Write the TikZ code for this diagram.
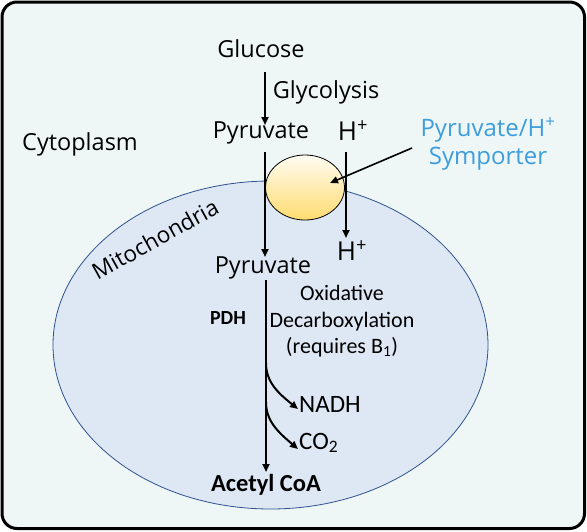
\documentclass[tikz,border=0pt]{standalone}
\usepackage{fontspec}
\setmainfont{Open Sans}
\newfontfamily\carlitofont{Carlito}
\usetikzlibrary{shapes.geometric,arrows.meta}
\definecolor{bgcol}{HTML}{EEF7F6}
\definecolor{mitofill}{HTML}{DEE8F5}
\definecolor{mitoline}{HTML}{2F528F}
\definecolor{symblue}{HTML}{3D9DDD}
\definecolor{symtop}{HTML}{FFFCF2}
\definecolor{symbot}{HTML}{FFDB70}
\tikzset{
  lab/.style={inner sep=0pt, font=\fontsize{23.5}{28}\selectfont},
  hlab/.style={inner sep=0pt, font=\fontsize{26}{30}\selectfont},
  clab/.style={inner sep=0pt, font=\carlitofont\fontsize{22}{26.5}\selectfont},
  arr/.style={line width=2pt, -{Triangle[length=8pt,width=7pt]}},
  thinarr/.style={line width=1.6pt, -{Triangle[length=8pt,width=7pt]}},
}
\begin{document}
\begin{tikzpicture}[x=1pt,y=-1pt]
\useasboundingbox (0,0) rectangle (587,531);
% outer cell
\draw[line width=3pt, rounded corners=15pt, fill=bgcol] (2,2) rectangle (584.5,528.5);
% mitochondria
\node[ellipse, draw=mitoline, line width=0.8pt, fill=mitofill, minimum width=435pt, minimum height=328pt, inner sep=0pt] (mito) at (270.5,345) {};
\node[lab, rotate=29, font=\fontsize{22.5}{27}\selectfont] (mitolab) at (155,239) {Mitochondria};
% symporter
\node[ellipse, draw=black, line width=0.8pt, top color=symtop, bottom color=symbot, minimum width=79pt, minimum height=65pt, inner sep=0pt] (sym) at (305,187.5) {};
% texts
\node[lab] (glucose) at (261,49) {Glucose};
\node[lab] (glyco) at (326,92) {Glycolysis};
\node[lab] (pyr1) at (261,133) {Pyruvate};
\node[hlab] (hp1) at (353,131) {H\textsuperscript{+}};
\node[lab] (cyto) at (80,144) {Cytoplasm};
\node[lab, text=symblue, align=center, font=\fontsize{24}{28}\selectfont] (symlab) at (488,144) {Pyruvate/H\textsuperscript{+}\\Symporter};
\node[hlab] (hp2) at (352,251) {H\textsuperscript{+}};
\node[lab] (pyr2) at (263,268) {Pyruvate};
\node[clab, font=\carlitofont\bfseries\fontsize{20}{24}\selectfont] (pdh) at (228,318) {PDH};
\node[clab, align=center] (oxid) at (342,321.5) {Oxidative\\Decarboxylation\\(requires B\textsubscript{1})};
\node[clab, anchor=west, font=\carlitofont\fontsize{25}{29}\selectfont] (nadh) at (299,404) {NADH};
\node[clab, anchor=west, font=\carlitofont\fontsize{25}{29}\selectfont] (co2) at (299,443) {CO\textsubscript{2}};
\node[clab, font=\carlitofont\bfseries\fontsize{24.5}{29}\selectfont] (acoa) at (266,485) {Acetyl CoA};
% arrows
\draw[arr] ([shift={(4,23)}]glucose.center) -- ([shift={(4,-8)}]pyr1.center);
\draw[arr] ([shift={(4,19)}]pyr1.center) -- ([shift={(2,-11)}]pyr2.center);
\draw[arr] ([shift={(-7,21)}]hp1.center) -- ([shift={(-6,-13)}]hp2.center);
\draw[arr] ([shift={(3,12)}]pyr2.center) -- ([shift={(0,-13)}]acoa.center);
\coordinate (b1) at (266,363);
\coordinate (b2) at (266,402);
\draw[arr] (b1) .. controls (266,382) and (278,393) .. ([xshift=-1pt,yshift=-5pt]nadh.west);
\draw[arr] (b2) .. controls (266,421) and (278,432) .. ([xshift=-1pt,yshift=-6pt]co2.west);
\draw[thinarr] ([shift={(-76,4)}]symlab.center) -- ([shift={(25,-4.5)}]sym.center);
\end{tikzpicture}
\end{document}
